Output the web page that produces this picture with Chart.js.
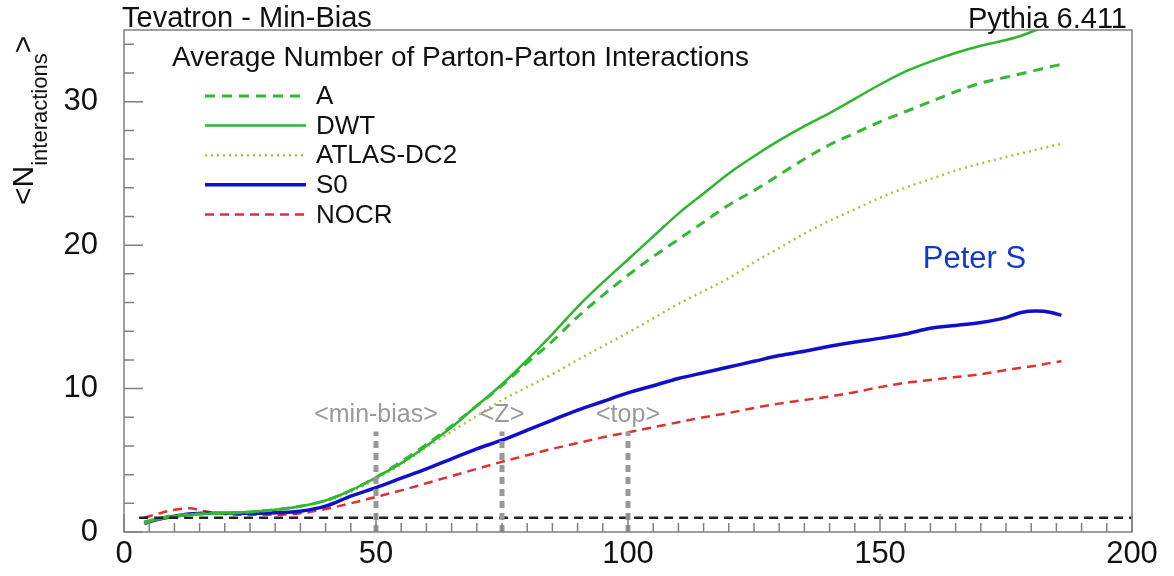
<!DOCTYPE html>
<html>
<head>
<style>
  body { margin: 0; background: #fff; }
  #wrap { width: 1174px; height: 576px; }
</style>
</head>
<body>
<div id="wrap"><canvas id="myChart"></canvas></div>

<script src="https://cdn.jsdelivr.net/npm/chart.js"></script>
<script>
// sqrt(s) points (GeV) shared by every curve
let xValues = [4, 7, 10, 13, 16, 20, 25, 30, 35, 40, 45, 50, 55, 60, 65, 70, 75, 80, 85, 90, 95,
  100, 105, 110, 115, 120, 125, 130, 135, 140, 145, 150, 155, 160, 165, 170, 175, 178, 181, 184, 186];

let tuneA = [0.7, 0.95, 1.15, 1.22, 1.27, 1.3, 1.4, 1.55, 1.8, 2.2, 2.9, 3.8, 4.9, 6.1, 7.4, 8.8, 10.2,
  11.8, 13.3, 15.0, 16.5, 17.9, 19.2, 20.4, 21.6, 22.8, 23.8, 24.9, 26.0, 27.0, 27.8, 28.6, 29.3, 30.0,
  30.7, 31.3, 31.7, 31.95, 32.2, 32.45, 32.6];
let tuneDWT = [0.6, 0.9, 1.1, 1.2, 1.27, 1.3, 1.4, 1.55, 1.8, 2.2, 2.9, 3.8, 4.8, 6.0, 7.3, 8.8, 10.3,
  12.0, 13.8, 15.7, 17.4, 19.0, 20.6, 22.2, 23.6, 25.0, 26.2, 27.3, 28.3, 29.2, 30.2, 31.2, 32.1, 32.8,
  33.4, 33.9, 34.3, 34.6, 35.0, 35.4, 35.7];
let tuneATLAS = [0.7, 0.95, 1.15, 1.22, 1.27, 1.3, 1.4, 1.55, 1.8, 2.15, 2.8, 3.7, 4.7, 5.9, 7.0, 8.1, 9.2,
  10.1, 11.0, 12.0, 12.95, 13.9, 14.9, 15.9, 16.8, 17.7, 18.8, 19.8, 20.8, 21.7, 22.5, 23.3, 24.0, 24.6,
  25.2, 25.7, 26.15, 26.4, 26.65, 26.9, 27.05];
let tuneS0 = [0.6, 0.9, 1.1, 1.25, 1.3, 1.3, 1.3, 1.35, 1.45, 1.8, 2.5, 3.1, 3.75, 4.4, 5.1, 5.8, 6.4,
  7.1, 7.8, 8.5, 9.1, 9.7, 10.2, 10.7, 11.1, 11.5, 11.9, 12.3, 12.6, 12.95, 13.25, 13.5, 13.8, 14.2,
  14.4, 14.6, 14.95, 15.3, 15.4, 15.3, 15.1];
let tuneNOCR = [1.0, 1.3, 1.55, 1.65, 1.45, 1.25, 1.2, 1.2, 1.3, 1.6, 2.0, 2.45, 2.9, 3.4, 3.9, 4.4, 4.9,
  5.35, 5.8, 6.2, 6.6, 6.95, 7.3, 7.65, 8.0, 8.3, 8.65, 8.95, 9.2, 9.45, 9.75, 10.1, 10.4, 10.6, 10.8,
  11.0, 11.3, 11.45, 11.6, 11.8, 11.9];

// reference marks
let markerX = [50, 75, 100];
let markerLabels = ['<min-bias>', '<Z>', '<top>'];
let markerTop = 7;
let oneLine = [3, 200];   // x range of the <N> = 1 line

let xTicks = [0, 50, 100, 150, 200];
let yTicks = [0, 10, 20, 30];

const FONT = '"Liberation Sans", Arial, sans-serif';

function pts(ys) { return xValues.map((x, i) => ({ x: x, y: ys[i] })); }

function curve(label, ys, color, width, dash) {
  return {
    label: label, data: pts(ys), borderColor: color, borderWidth: width, borderDash: dash,
    pointRadius: 0, fill: false, cubicInterpolationMode: 'monotone', inLegend: true
  };
}

let datasets = [];
// dashed guide lines sit on top of the curves
markerX.forEach(m => {
  datasets.push({ data: [{ x: m, y: 0 }, { x: m, y: markerTop }], borderColor: '#999999',
    borderWidth: 5, borderDash: [7, 5], pointRadius: 0, order: -1 });
});
datasets.push({ data: oneLine.map(x => ({ x: x, y: 1 })), borderColor: '#222222', borderWidth: 2.5,
  borderDash: [9, 6], pointRadius: 0, order: -1 });

datasets.push(curve('A', tuneA, '#33b833', 3, [10, 7]));
datasets.push(curve('DWT', tuneDWT, '#2fb52f', 2.5, []));
datasets.push(curve('ATLAS-DC2', tuneATLAS, '#a3c83c', 2.5, [2, 4]));
datasets.push(curve('S0', tuneS0, '#1010c8', 3.5, []));
datasets.push(curve('NOCR', tuneNOCR, '#e03030', 2.5, [9, 6]));

// frame + inward ticks, like the ROOT style
const frameTicks = {
  id: 'frameTicks',
  afterDatasetsDraw(chart) {
    const { ctx, chartArea: a, scales: { x, y } } = chart;
    ctx.save();
    ctx.strokeStyle = '#808080';
    ctx.lineWidth = 1.5;
    ctx.strokeRect(a.left, a.top, a.right - a.left, a.bottom - a.top);
    ctx.beginPath();
    for (let v = 0; v <= 200; v += 5) {
      const px = x.getPixelForValue(v);
      const len = v % 50 === 0 ? 18 : 9;
      ctx.moveTo(px, a.bottom);
      ctx.lineTo(px, a.bottom - len);
    }
    for (let v = 0; v <= 34; v += 2) {
      const py = y.getPixelForValue(v);
      const len = v % 10 === 0 ? 19 : 10;
      ctx.moveTo(a.left, py);
      ctx.lineTo(a.left + len, py);
    }
    ctx.stroke();
    ctx.restore();
  }
};

const texts = {
  id: 'texts',
  afterDraw(chart) {
    const { ctx, chartArea: a, scales: { x, y } } = chart;
    ctx.save();
    ctx.fillStyle = '#111';
    ctx.textBaseline = 'alphabetic';
    ctx.font = '29px ' + FONT;
    ctx.textAlign = 'left';
    ctx.fillText('Tevatron - Min-Bias', a.left - 2, 27);
    ctx.textAlign = 'right';
    ctx.fillText('Pythia 6.411', a.right - 5, 28);

    // y title with subscript
    ctx.save();
    ctx.translate(33, 205);
    ctx.rotate(-Math.PI / 2);
    ctx.textAlign = 'left';
    ctx.font = '30px ' + FONT;
    let w = ctx.measureText('<N').width;
    ctx.fillText('<N', 0, 0);
    ctx.font = '22px ' + FONT;
    ctx.fillText('interactions', w, 14);
    w += ctx.measureText('interactions').width;
    ctx.font = '30px ' + FONT;
    ctx.fillText('>', w, 0);
    ctx.restore();

    // legend
    ctx.textAlign = 'left';
    ctx.textBaseline = 'middle';
    ctx.font = '28px ' + FONT;
    ctx.fillText('Average Number of Parton-Parton Interactions', 172, 58);
    ctx.font = '26px ' + FONT;
    let row = 0;
    chart.data.datasets.forEach(ds => {
      if (!ds.inLegend) return;
      const ly = 96 + row * 29.6;
      ctx.beginPath();
      ctx.strokeStyle = ds.borderColor;
      ctx.lineWidth = ds.borderWidth;
      ctx.setLineDash(ds.borderDash);
      ctx.moveTo(205, ly);
      ctx.lineTo(306, ly);
      ctx.stroke();
      ctx.setLineDash([]);
      ctx.fillStyle = '#111';
      ctx.fillText(ds.label, 316, ly + 1);
      row++;
    });

    // marker labels
    ctx.textAlign = 'center';
    ctx.textBaseline = 'alphabetic';
    ctx.font = '25px ' + FONT;
    ctx.fillStyle = '#9a9a9a';
    markerX.forEach((m, i) => {
      ctx.fillText(markerLabels[i], x.getPixelForValue(m), y.getPixelForValue(7.65));
    });

    ctx.textAlign = 'left';
    ctx.font = '31px ' + FONT;
    ctx.fillStyle = '#1238d0';
    ctx.fillText('Peter S', x.getPixelForValue(158.5), y.getPixelForValue(18.4));
    ctx.restore();
  }
};

function noEdgePad(s) {
  s.paddingTop = 0; s.paddingBottom = 0; s.paddingLeft = 0; s.paddingRight = 0;
}

let ctx = document.getElementById('myChart').getContext('2d');
let chart = new Chart(ctx, {
  type: 'line',
  data: { datasets: datasets },
  options: {
    responsive: true,
    maintainAspectRatio: false,
    animation: false,
    layout: { padding: { top: 30, right: 42, left: 0, bottom: 0 } },
    plugins: { legend: { display: false }, tooltip: { enabled: false } },
    scales: {
      x: {
        type: 'linear', min: 0, max: 200,
        afterBuildTicks: s => { s.ticks = xTicks.map(v => ({ value: v })); },
        afterFit: s => { s.height = 44; noEdgePad(s); },
        grid: { display: false, drawTicks: false },
        border: { display: false },
        ticks: { autoSkip: false, maxRotation: 0, padding: 4, color: '#111', font: { family: FONT, size: 31 } }
      },
      y: {
        type: 'linear', min: 0, max: 35,
        afterBuildTicks: s => { s.ticks = yTicks.map(v => ({ value: v })); },
        afterFit: s => { s.width = 124; noEdgePad(s); },
        grid: { display: false, drawTicks: false },
        border: { display: false },
        ticks: { padding: 26, color: '#111', font: { family: FONT, size: 31 } }
      }
    }
  },
  plugins: [frameTicks, texts]
});
</script>
</body>
</html>
